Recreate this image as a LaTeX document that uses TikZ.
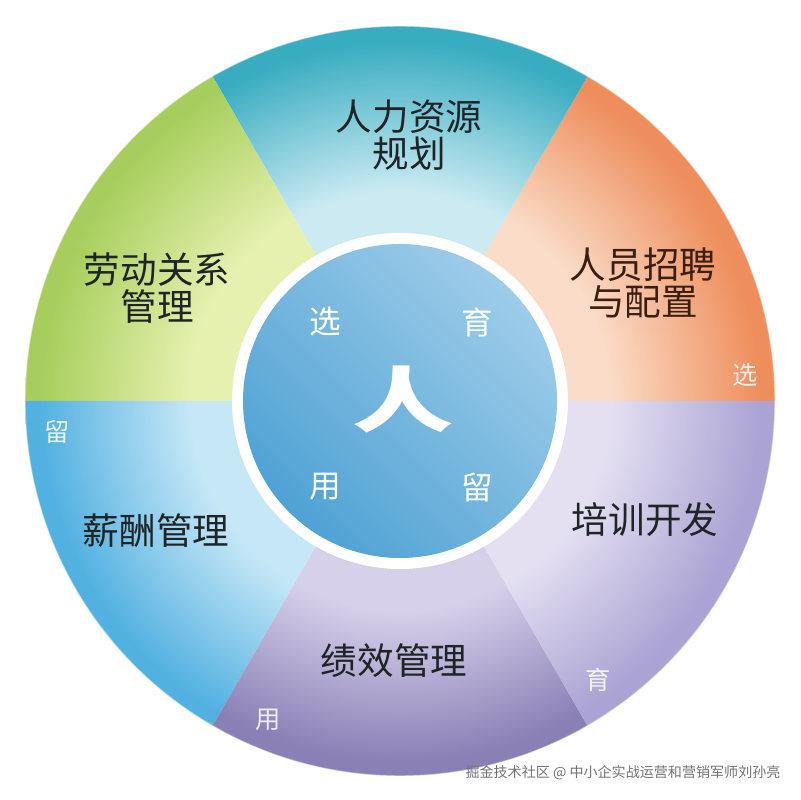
\documentclass[tikz,border=0pt]{standalone}
\usepackage{fontspec}
\newfontfamily\cjk{Noto Sans CJK SC}
\usepackage{xcolor}
\definecolor{planout}{HTML}{38ACC0}
\definecolor{planin}{HTML}{CBEAF2}
\definecolor{recout}{HTML}{EE8E5C}
\definecolor{recin}{HTML}{FADCC8}
\definecolor{trainout}{HTML}{ABA3D3}
\definecolor{trainin}{HTML}{E4E0F2}
\definecolor{perfout}{HTML}{8A80B6}
\definecolor{perfin}{HTML}{D6D0EA}
\definecolor{payout}{HTML}{53B1E1}
\definecolor{payin}{HTML}{C6E7F6}
\definecolor{labout}{HTML}{A7CE5C}
\definecolor{labin}{HTML}{E6F1B0}
\definecolor{hubdark}{HTML}{4FA2D4}
\definecolor{hublight}{HTML}{9ECCE9}
\definecolor{ink}{HTML}{1F2427}
\definecolor{inkbrown}{HTML}{3A1E10}
\colorlet{petalin}{white}
\colorlet{petalout}{gray}
\usepackage{tikz}
\usetikzlibrary{positioning}

\pgfdeclareradialshading[petalin,petalout]{petal}{\pgfpoint{0bp}{0bp}}{%
  color(0bp)=(petalin); color(14bp)=(petalin);
  color(24bp)=(petalout); color(50bp)=(petalout)}

\begin{document}
\begin{tikzpicture}[x=0.025cm, y=0.025cm,
    seglabel/.style={font=\cjk\fontsize{26}{26}\selectfont, text=ink,
                     align=center, inner sep=0pt},
    ringchar/.style={font=\cjk\fontsize{22.5}{22.5}\selectfont, text=white,
                     inner sep=0pt},
    rimchar/.style={font=\cjk\fontsize{18}{18}\selectfont, text=white,
                    opacity=0.85, inner sep=0pt}]

  \fill[white] (0,0) rectangle (800,800);
  \useasboundingbox (0,0) rectangle (800,800);
  \coordinate (hub) at (400,399);

  % six petals of the wheel
  \foreach \a/\cin/\cout in {0/recin/recout, 60/planin/planout,
      120/labin/labout, 180/payin/payout, 240/perfin/perfout,
      300/trainin/trainout} {
    \colorlet{petalin}{\cin}
    \colorlet{petalout}{\cout}
    \begin{scope}
      \clip (hub) -- ++(\a:375) arc[start angle=\a, end angle=\a+60,
        radius=375] -- cycle;
      \shade[shading=petal] (hub) circle (375);
    \end{scope}
  }
  \draw[white, line width=1pt, opacity=0.5] (hub) circle (375);

  % hub
  \fill[white] (hub) circle (168);
  \shade[top color=hublight, bottom color=hubdark, shading angle=-45]
    (hub) circle (157);

  \node[font=\cjk\bfseries\fontsize{72}{72}\selectfont, text=white,
        yscale=0.7, transform shape, inner sep=0pt] (hubchar) at (403,400) {人};

  \node[ringchar] (sel) at (325,478) {选};
  \node[ringchar] (dev) at (477,478) {育};
  \node[ringchar] (use) at (325,313) {用};
  \node[ringchar] (keep) at (477,313) {留};

  \node[seglabel] (plan) at (409,665) {人力资源\\规划};
  \node[seglabel, text=inkbrown] (recruit) at (643,517) {人员招聘\\与配置};
  \node[seglabel] (train) at (645,280) {培训开发};
  \node[seglabel] (perf) at (394,139) {绩效管理};
  \node[seglabel] (pay) at (156,269) {薪酬管理};
  \node[seglabel] (labor) at (157,512) {劳动关系\\管理};

  \node[rimchar] (selout) at (745,425) {选};
  \node[rimchar] (devout) at (598,120) {育};
  \node[rimchar] (useout) at (268,80) {用};
  \node[rimchar] (keepout) at (57,368) {留};

  \node[font=\cjk\fontsize{10}{10}\selectfont, text=black!55, inner sep=0pt]
    (mark) at (623,27) {掘金技术社区 @ 中小企实战运营和营销军师刘孙亮};

\end{tikzpicture}
\end{document}
